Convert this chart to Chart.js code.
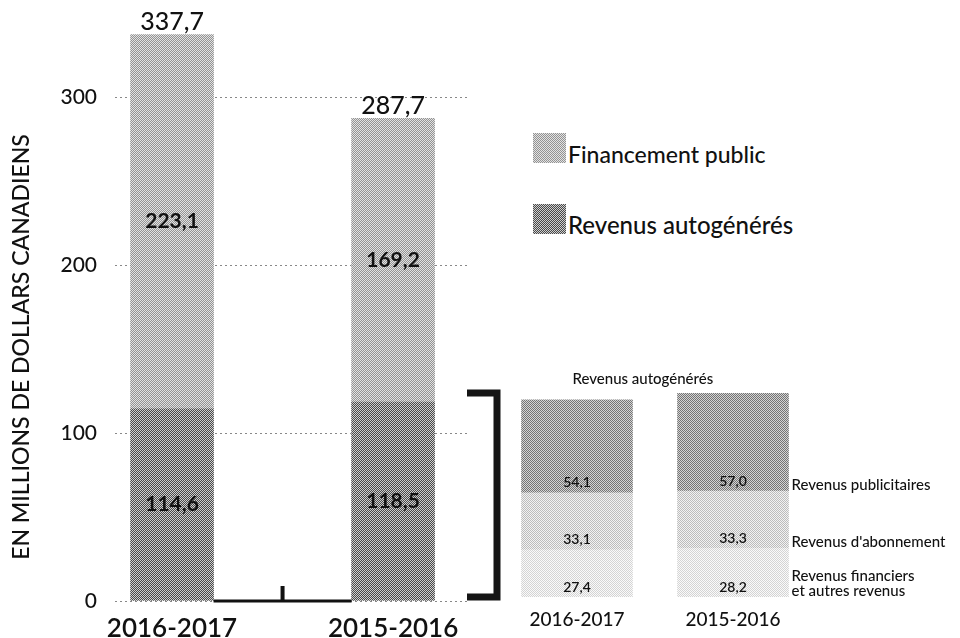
<!DOCTYPE html>
<html lang="fr">
<head>
    <meta charset="UTF-8">
    <title>Revenus</title>
    <script src="https://cdn.jsdelivr.net/npm/chart.js"></script>
    <style>
        body { margin: 0; background: #fff; font-family: Lato, sans-serif; color: #111; }
        .wrap { position: relative; width: 960px; height: 638px; overflow: hidden; }
        #mainChart { position: absolute; left: 0; top: 0; }
        #detailChart { position: absolute; left: 455px; top: 360px; }
        .swatch { position: absolute; left: 533px; width: 33px; height: 30px; }
        .legend-text { position: absolute; left: 568px; font-size: 23px; font-weight: 500; line-height: 28px; white-space: nowrap; }
    </style>
</head>
<body>
    <div class="wrap">
        <canvas id="mainChart" width="480" height="638"></canvas>
        <canvas id="detailChart" width="505" height="278"></canvas>

        <div class="swatch" style="top:133px; background: repeating-conic-gradient(#e2e2e2 0 25%, #939393 0 50%) 0 0/2px 2px;"></div>
        <div class="legend-text" style="top:140px;">Financement public</div>
        <div class="swatch" style="top:204px; background: repeating-conic-gradient(#cfcfcf 0 25%, #4a4a4a 0 50%) 0 0/2px 2px;"></div>
        <div class="legend-text" style="top:211px; font-size:24px;">Revenus autogénérés</div>
    </div>
    <script>
        // main chart
        const years = ['2016-2017', '2015-2016'];
        const financementPublic = [223.1, 169.2];
        const revenusAutogeneres = [114.6, 118.5];

        // breakdown of self-generated revenue
        const detailYears = ['2016-2017', '2015-2016'];
        const revenusFinanciers = [27.4, 28.2];
        const revenusAbonnement = [33.1, 33.3];
        const revenusPublicitaires = [54.1, 57.0];
        const detailNames = [
            ['Revenus financiers', 'et autres revenus'],
            ["Revenus d'abonnement"],
            ['Revenus publicitaires']
        ];

        const fmt = v => v.toFixed(1).replace('.', ',');
        const toPoints = arr => arr.map((v, i) => ({ x: i, y: v }));

        // 2x2 checker so the fills look dithered like the scan
        function checker(c1, c2) {
            const c = document.createElement('canvas');
            c.width = 2; c.height = 2;
            const g = c.getContext('2d');
            g.fillStyle = c1; g.fillRect(0, 0, 2, 2);
            g.fillStyle = c2; g.fillRect(1, 0, 1, 1); g.fillRect(0, 1, 1, 1);
            return g.createPattern(c, 'repeat');
        }

        const mainLabels = {
            id: 'mainLabels',
            afterDatasetsDraw(chart) {
                const ctx = chart.ctx;
                const y0 = chart.scales.y.getPixelForValue(0);
                ctx.save();
                ctx.fillStyle = '#111';
                ctx.textAlign = 'center';
                ctx.textBaseline = 'middle';
                ctx.font = 'bold 21px Lato';
                chart.data.datasets.forEach((ds, di) => {
                    chart.getDatasetMeta(di).data.forEach((bar, i) => {
                        ctx.fillText(fmt(ds.data[i].y), bar.x, (bar.y + bar.base) / 2);
                    });
                });

                // totals above bars
                ctx.font = '500 25px Lato';
                ctx.textBaseline = 'alphabetic';
                const topBars = chart.getDatasetMeta(chart.data.datasets.length - 1).data;
                topBars.forEach((bar, i) => {
                    ctx.fillText(fmt(financementPublic[i] + revenusAutogeneres[i]), bar.x, bar.y - 4);
                });

                // black base line between the bars, with a middle tick
                const b = chart.getDatasetMeta(0).data;
                const left = b[0].x + b[0].width / 2;
                const right = b[1].x - b[1].width / 2;
                ctx.fillRect(left, y0 - 1.5, right - left, 3);
                const mid = chart.scales.x.getPixelForValue(0.5);
                ctx.fillRect(mid - 2, y0 - 15, 4, 15);

                // axis title, centred a bit lower than the plot area like the original
                ctx.save();
                ctx.translate(22, 347);
                ctx.rotate(-Math.PI / 2);
                ctx.font = '500 23px Lato';
                ctx.textBaseline = 'middle';
                ctx.fillText('EN MILLIONS DE DOLLARS CANADIENS', 0, 0);
                ctx.restore();
                ctx.restore();
            }
        };

        new Chart(document.getElementById('mainChart'), {
            type: 'bar',
            data: {
                datasets: [
                    {
                        label: 'Revenus autogénérés',
                        data: toPoints(revenusAutogeneres),
                        backgroundColor: checker('#cfcfcf', '#4a4a4a'),
                        barThickness: 83
                    },
                    {
                        label: 'Financement public',
                        data: toPoints(financementPublic),
                        backgroundColor: checker('#e2e2e2', '#939393'),
                        barThickness: 83
                    }
                ]
            },
            options: {
                responsive: false,
                animation: false,
                layout: { padding: { top: 29, right: 10, left: 0, bottom: 0 } },
                scales: {
                    x: {
                        type: 'linear',
                        offset: false,
                        stacked: true,
                        min: -0.258,
                        max: 1.348,
                        grid: { display: false },
                        border: { display: false },
                        afterBuildTicks: scale => { scale.ticks = years.map((_, i) => ({ value: i })); },
                        afterFit: scale => { scale.height = 37; },
                        ticks: {
                            autoSkip: false,
                            maxRotation: 0,
                            padding: 4,
                            color: '#111',
                            font: { family: 'Lato', size: 26, weight: '600' },
                            callback: v => years[v]
                        }
                    },
                    y: {
                        stacked: true,
                        min: 0,
                        max: 340,
                        afterFit: scale => { scale.width = 115; },
                        grid: { color: '#888', lineWidth: 1, drawTicks: false },
                        border: { display: false, dash: [2, 3] },
                        ticks: {
                            stepSize: 100,
                            includeBounds: false,
                            padding: 18,
                            color: '#111',
                            font: { family: 'Lato', size: 21, weight: '500' }
                        }
                    }
                },
                plugins: {
                    legend: { display: false },
                    tooltip: { enabled: false }
                }
            },
            plugins: [mainLabels]
        });

        const detailPlugin = {
            id: 'detailPlugin',
            afterDatasetsDraw(chart) {
                const ctx = chart.ctx;
                const y = chart.scales.y;
                ctx.save();
                ctx.fillStyle = '#111';
                chart.data.datasets.forEach((ds, di) => {
                    const bars = chart.getDatasetMeta(di).data;
                    ctx.font = '600 14px Lato';
                    ctx.textAlign = 'center';
                    ctx.textBaseline = 'middle';
                    bars.forEach((bar, i) => ctx.fillText(fmt(ds.data[i].y), bar.x, bar.base - 10));

                    // series name to the right of the last bar
                    const last = bars[bars.length - 1];
                    const lines = detailNames[di];
                    ctx.textAlign = 'left';
                    ctx.textBaseline = 'alphabetic';
                    ctx.font = '500 15px Lato';
                    lines.forEach((t, k) => {
                        ctx.fillText(t, last.x + last.width / 2 + 3, last.base - 1 - (lines.length - 1 - k) * 15);
                    });
                });

                const first = chart.getDatasetMeta(0).data[0];
                const firstLeft = first.x - first.width / 2;

                // small title
                ctx.textAlign = 'left';
                ctx.textBaseline = 'alphabetic';
                ctx.font = '500 15px Lato';
                ctx.fillText('Revenus autogénérés', firstLeft + 51, chart.chartArea.top - 9);

                // bracket tying the breakdown to the main chart
                const yTop = y.getPixelForValue(y.max);
                const yBot = y.getPixelForValue(0);
                const bx = firstLeft - 24.5;
                ctx.strokeStyle = '#151515';
                ctx.lineWidth = 7;
                ctx.lineJoin = 'miter';
                ctx.beginPath();
                ctx.moveTo(bx - 30, yTop);
                ctx.lineTo(bx, yTop);
                ctx.lineTo(bx, yBot);
                ctx.lineTo(bx - 30, yBot);
                ctx.stroke();
                ctx.restore();
            }
        };

        const detailTotals = revenusFinanciers.map((v, i) => v + revenusAbonnement[i] + revenusPublicitaires[i]);

        new Chart(document.getElementById('detailChart'), {
            type: 'bar',
            data: {
                datasets: [
                    { label: 'Revenus financiers et autres revenus', data: toPoints(revenusFinanciers), backgroundColor: checker('#fafafa', '#d4d4d4'), barThickness: 111 },
                    { label: "Revenus d'abonnement", data: toPoints(revenusAbonnement), backgroundColor: checker('#f2f2f2', '#bcbcbc'), barThickness: 111 },
                    { label: 'Revenus publicitaires', data: toPoints(revenusPublicitaires), backgroundColor: checker('#d4d4d4', '#747474'), barThickness: 111 }
                ]
            },
            options: {
                responsive: false,
                animation: false,
                layout: { padding: { top: 33, left: 45, right: 10, bottom: 0 } },
                scales: {
                    x: {
                        type: 'linear',
                        offset: false,
                        stacked: true,
                        min: -0.4936,
                        max: 2.391,
                        grid: { display: false },
                        border: { display: false },
                        afterBuildTicks: scale => { scale.ticks = detailYears.map((_, i) => ({ value: i })); },
                        afterFit: scale => { scale.height = 41; },
                        ticks: {
                            autoSkip: false,
                            maxRotation: 0,
                            padding: 3,
                            color: '#111',
                            font: { family: 'Lato', size: 19, weight: '500' },
                            callback: v => detailYears[v]
                        }
                    },
                    y: {
                        display: false,
                        stacked: true,
                        min: 0,
                        max: Math.max(...detailTotals)
                    }
                },
                plugins: {
                    legend: { display: false },
                    tooltip: { enabled: false }
                }
            },
            plugins: [detailPlugin]
        });
    </script>
</body>
</html>
